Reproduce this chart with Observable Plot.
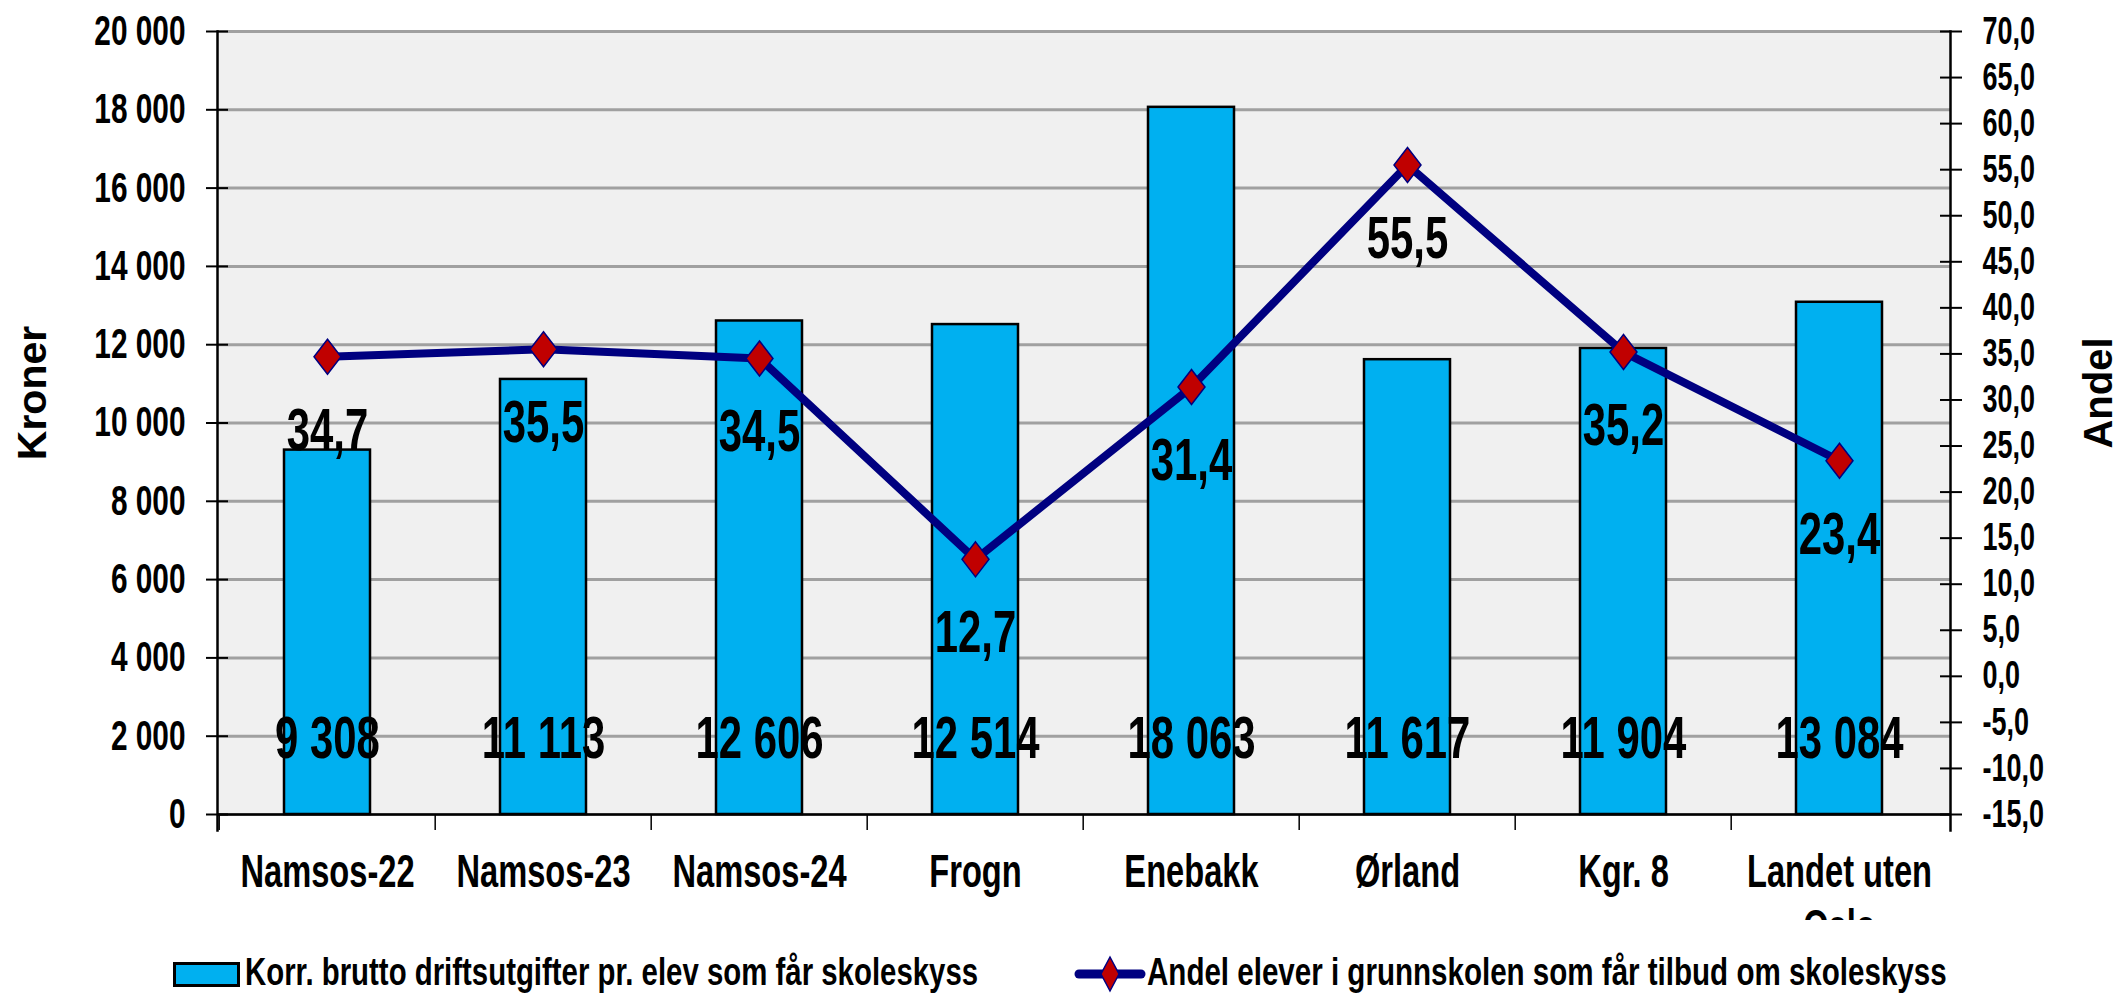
<!DOCTYPE html>
<html><head><meta charset="utf-8">
<script src="https://cdn.jsdelivr.net/npm/d3@7"></script>
<script src="https://cdn.jsdelivr.net/npm/@observablehq/plot@0.6"></script>
<style>
body{margin:0;background:#fff;}
#wrap{position:relative;width:2123px;height:997px;overflow:hidden;background:#fff;}
#chart{position:absolute;left:0;top:0;width:2123px;height:920px;overflow:hidden;}
#chart svg{overflow:hidden;max-width:none;}
.lg{position:absolute;top:946px;height:52px;line-height:52px;font-family:"Liberation Sans",Arial,sans-serif;font-weight:bold;font-size:39px;color:#000;white-space:nowrap;transform-origin:0 50%;}
.sw{position:absolute;top:962px;width:61px;height:19px;background:#00B0F0;border:3px solid #000;}
.ls{position:absolute;top:954px;}
</style></head><body>
<div id="wrap"><div id="chart"></div><div id="legend"></div></div>
<script>
const categories = ["Namsos-22","Namsos-23","Namsos-24","Frogn","Enebakk","Ørland","Kgr. 8","Landet uten Oslo"];
const kroner = [9308, 11113, 12606, 12514, 18063, 11617, 11904, 13084];
const andel = [34.7, 35.5, 34.5, 12.7, 31.4, 55.5, 35.2, 23.4];
const leftTicks = [0, 2000, 4000, 6000, 8000, 10000, 12000, 14000, 16000, 18000, 20000];
const rightTicks = [-15, -10, -5, 0, 5, 10, 15, 20, 25, 30, 35, 40, 45, 50, 55, 60, 65, 70];
const seriesNames = ["Korr. brutto driftsutgifter pr. elev som får skoleskyss", "Andel elever i grunnskolen som får tilbud om skoleskyss"];
const axisTitles = ["Kroner", "Andel"];

const W = 2123, H = 920, mL = 217, mR = 173, mT = 31, mB = H - 814;
const step = (W - mL - mR) / categories.length;
const SQUEEZE = 0.71;
const toLeft = d3.scaleLinear([-15, 70], [0, 20000]);
const loc = d3.formatLocale({decimal: ",", thousands: "\u00a0", grouping: [3], currency: ["", ""], minus: "-"});
const fmtK = loc.format(",d"), fmtA = loc.format(".1f");
const rows = categories.map((c, i) => ({cat: c, kr: kroner[i], an: andel[i], anY: toLeft(andel[i])}));
const diamond = {draw(ctx, size) {
  const r = Math.sqrt(size / Math.PI), hy = r * 1.75, hx = r * 1.35;
  ctx.moveTo(0, -hy); ctx.lineTo(hx, 0); ctx.lineTo(0, hy); ctx.lineTo(-hx, 0); ctx.closePath();
}};
const font = '"Liberation Sans",Arial,sans-serif';

const chart = Plot.plot({
  width: W, height: H, marginLeft: mL, marginRight: mR, marginTop: mT, marginBottom: mB,
  style: {fontFamily: font, fontWeight: "bold", fontSize: "40px", color: "black", background: "white"},
  x: {type: "band", domain: categories, paddingInner: 0.6, paddingOuter: 0.3, label: null},
  y: {domain: [0, 20000], label: null},
  marks: [
    Plot.frame({fill: "#F0F0F0", stroke: null}),
    Plot.gridY(leftTicks, {stroke: "#A0A0A0", strokeOpacity: 1, strokeWidth: 3}),
    Plot.barY(rows, {x: "cat", y: "kr", fill: "#00B0F0", stroke: "black", strokeWidth: 2.5}),
    Plot.ruleY([0], {stroke: "black", strokeWidth: 2.5}),
    Plot.frame({anchor: "left", stroke: "black", strokeWidth: 2.5, insetBottom: -16}),
    Plot.frame({anchor: "right", stroke: "black", strokeWidth: 2.5, insetBottom: -16}),
    Plot.axisY(leftTicks, {anchor: "left", tickSize: 22, dx: 11, tickFormat: () => "", label: null, strokeWidth: 2}),
    Plot.axisY(leftTicks, {anchor: "left", tickSize: 0, tickPadding: 32, tickFormat: fmtK, label: null, fontSize: 42}),
    Plot.axisY(rightTicks.map(toLeft), {anchor: "right", tickSize: 22, dx: -11, tickFormat: () => "", label: null, strokeWidth: 2}),
    Plot.axisY(rightTicks.map(toLeft), {anchor: "right", tickSize: 0, tickPadding: 32, tickFormat: v => fmtA(toLeft.invert(v)), label: null, fontSize: 38}),
    Plot.axisX({tickSize: 16, dx: -step / 2, tickFormat: () => "", label: null, strokeWidth: 1.5}),
    Plot.axisX({tickSize: 0, tickPadding: 33, tickFormat: d => d.replace("uten ", "uten\n"), label: null, fontSize: 46, lineHeight: 1.2}),
    Plot.line(rows, {x: "cat", y: "anY", stroke: "#000080", strokeWidth: 8}),
    Plot.dot(rows, {x: "cat", y: "anY", symbol: diamond, r: 10, fill: "#C00000", stroke: "#000080", strokeWidth: 1.5}),
    Plot.text(rows, {x: "cat", y: "anY", text: d => fmtA(d.an), dy: 74, fontSize: 59}),
    Plot.text(rows, {x: "cat", frameAnchor: "bottom", text: d => fmtK(d.kr), dy: -57, fontSize: 59}),
    Plot.text([axisTitles[0]], {frameAnchor: "left", textAnchor: "middle", dx: 32 - mL, dy: -30, rotate: -90, fontSize: 41, className: "wide"}),
    Plot.text([axisTitles[1]], {frameAnchor: "right", textAnchor: "middle", dx: 2099 - (W - mR), dy: -30, rotate: -90, fontSize: 40, className: "wide"})
  ]
});
document.getElementById("chart").appendChild(chart);

// condense horizontal texts around their anchor (the reference uses a narrow typeface)
chart.querySelectorAll("text").forEach(t => {
  if (t.closest(".wide")) return;
  const first = t.querySelector("tspan");
  const ax = parseFloat(t.getAttribute("x") || (first && first.getAttribute("x")) || 0) || 0;
  const prev = t.getAttribute("transform") || "";
  t.setAttribute("transform", `${prev} translate(${ax},0) scale(${SQUEEZE},1) translate(${-ax},0)`.trim());
});

const lg = document.getElementById("legend");
lg.innerHTML = `
<div class="sw" style="left:173px"></div>
<div class="lg" id="lg1" style="left:245px">${seriesNames[0]}</div>
<svg class="ls" style="left:1074px" width="72" height="40" viewBox="0 0 72 40">
  <line x1="5" y1="20" x2="67" y2="20" stroke="#000080" stroke-width="9" stroke-linecap="round"/>
  <path d="M36,3 L45,20 L36,37 L27,20 Z" fill="#C00000" stroke="#000080" stroke-width="1.5"/>
</svg>
<div class="lg" id="lg2" style="left:1147px">${seriesNames[1]}</div>`;
[["lg1", 733], ["lg2", 800]].forEach(([id, target]) => {
  const el = document.getElementById(id);
  el.style.transform = `scaleX(${target / el.offsetWidth})`;
});
</script>
</body></html>
